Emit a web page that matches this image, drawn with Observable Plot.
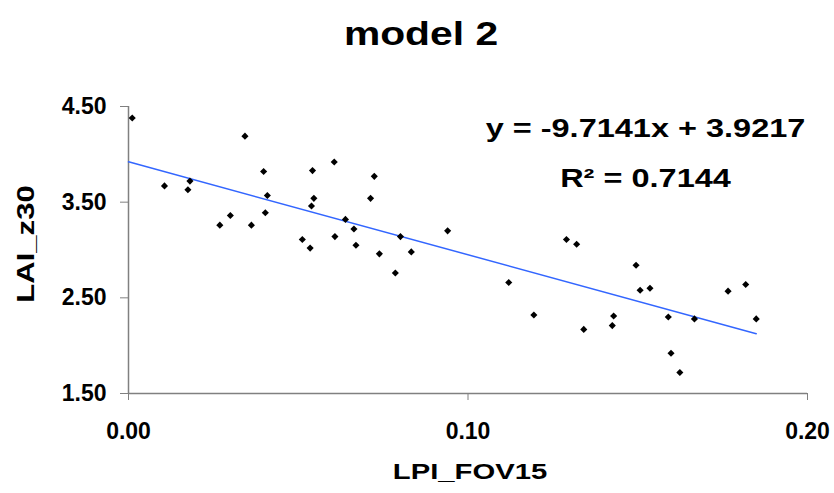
<!DOCTYPE html>
<html>
<head>
<meta charset="utf-8">
<script src="https://cdn.jsdelivr.net/npm/d3@7"></script>
<script src="https://cdn.jsdelivr.net/npm/@observablehq/plot@0.6"></script>
<style>
  body { margin: 0; background: #fff; }
  #wrap { position: relative; width: 834px; height: 493px; font-family: "Liberation Sans", Arial, sans-serif; }
  #title { position: relative; height: 62px; }
  #title span { position: absolute; left: 0; width: 842px; text-align: center; top: 14px; font-size: 34px; font-weight: bold; line-height: normal; transform: scaleX(1.2); }
  #chart svg { display: block; }
</style>
</head>
<body>
<div id="wrap">
  <div id="title"><span>model 2</span></div>
  <div id="chart"></div>
</div>
<script>
const lpi = [0.0011, 0.0106, 0.0175, 0.0181, 0.0269, 0.0300, 0.0343, 0.0362, 0.0398, 0.0403,
  0.0409, 0.0512, 0.0535, 0.0539, 0.0542, 0.0546, 0.0606, 0.0608, 0.0639, 0.0664,
  0.0670, 0.0713, 0.0724, 0.0739, 0.0786, 0.0801, 0.0833, 0.0940, 0.1120, 0.1194,
  0.1290, 0.1320, 0.1341, 0.1425, 0.1429, 0.1495, 0.1507, 0.1536, 0.1590, 0.1598,
  0.1624, 0.1667, 0.1766, 0.1818, 0.1849];
const lai = [4.38, 3.67, 3.63, 3.72, 3.26, 3.36, 4.19, 3.26, 3.82, 3.39,
  3.57, 3.11, 3.02, 3.46, 3.83, 3.54, 3.92, 3.14, 3.32, 3.22,
  3.05, 3.54, 3.77, 2.96, 2.76, 3.14, 2.98, 3.20, 2.66, 2.32,
  3.11, 3.06, 2.17, 2.21, 2.31, 2.84, 2.58, 2.60, 2.30, 1.92,
  1.72, 2.28, 2.57, 2.64, 2.28];
const xTicks = [0, 0.1, 0.2];
const yTicks = [1.5, 2.5, 3.5, 4.5];
const slope = -9.7141;
const intercept = 3.9217;
const r2 = 0.7144;
const xLabel = "LPI_FOV15";
const yLabel = "LAI_z30";
const equationLines = [`y = ${slope}x + ${intercept}`, `R² = ${r2}`];

const points = lpi.map((x, i) => ({x, y: lai[i]}));
const trendX = [0, d3.max(lpi)];
const trend = trendX.map(x => ({x, y: slope * x + intercept}));

const gray = "#808080";
const common = {text: d => d, textAnchor: "middle", lineAnchor: "middle", fontWeight: "bold", fill: "black"};
const chart = Plot.plot({
  width: 834,
  height: 431,
  marginLeft: 128,
  marginRight: 27,
  marginTop: 44,
  marginBottom: 100,
  style: {fontFamily: '"Liberation Sans", Arial, sans-serif', fontSize: "23px", fontWeight: "bold", background: "white", color: "black", overflow: "visible"},
  x: {domain: [0, 0.2]},
  y: {domain: [1.5, 4.5]},
  marks: [
    Plot.axisY({ticks: yTicks, tickFormat: d3.format(".2f"), tickSize: 8, tickPadding: 14, stroke: gray, fill: "black", label: null}),
    Plot.axisX({ticks: xTicks, tickFormat: d3.format(".2f"), tickSize: 7, tickPadding: 22, stroke: gray, fill: "black", label: null}),
    Plot.ruleX([0], {y1: 1.5, y2: 4.5, stroke: gray, strokeWidth: 1.5}),
    Plot.ruleY([1.5], {x1: 0, x2: 0.2, stroke: gray, strokeWidth: 1.5}),
    Plot.line(trend, {x: "x", y: "y", stroke: "#3366ff", strokeWidth: 1.5}),
    Plot.dot(points, {x: "x", y: "y", symbol: "diamond2", r: 3.2, fill: "black", stroke: "none"}),
    Plot.text([yLabel], {...common, frameAnchor: "left", rotate: -90, dx: -102, dy: -6, fontSize: 23}),
    Plot.text([xLabel], {...common, frameAnchor: "bottom", dx: 2, dy: 78, fontSize: 22.5}),
    Plot.text([equationLines[0]], {...common, frameAnchor: "top", dx: 177.5, dy: 22.5, fontSize: 25}),
    Plot.text([equationLines[1]], {...common, frameAnchor: "top", dx: 177.5, dy: 72, fontSize: 25})
  ]
});
// horizontal stretch of the titles, as in the reference rendering
const stretch = new Map([[yLabel, 1.35], [xLabel, 1.3], [equationLines[0], 1.3], [equationLines[1], 1.3]]);
d3.select(chart).selectAll("text").each(function() {
  const s = stretch.get(this.textContent);
  if (!s) return;
  const t = this.getAttribute("transform");
  if (t) {
    this.setAttribute("transform", `${t} scale(${s},1)`);
  } else {
    const x = +this.getAttribute("x") || 0, y = +this.getAttribute("y") || 0;
    this.setAttribute("transform", `translate(${x},${y}) scale(${s},1) translate(${-x},${-y})`);
  }
});
document.getElementById("chart").appendChild(chart);
</script>
</body>
</html>
